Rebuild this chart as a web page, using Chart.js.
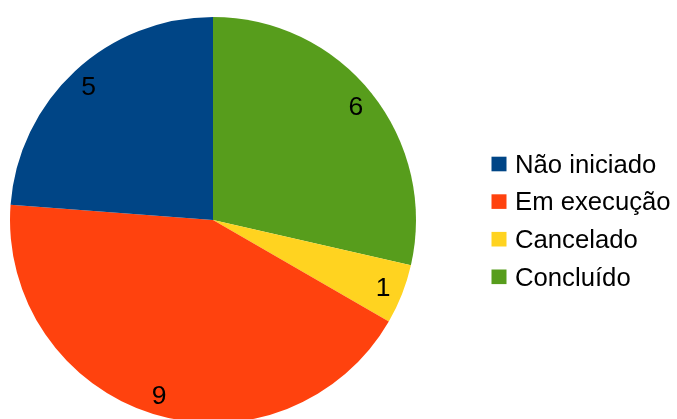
<!DOCTYPE html>
<html>
<head>
<meta charset="utf-8">
<script src="https://cdn.jsdelivr.net/npm/chart.js@4"></script>
<style>
  html, body { margin: 0; padding: 0; background: #fff; overflow: hidden; }
  #wrap { width: 677px; height: 419px; overflow: hidden; }
  canvas { display: block; }
</style>
</head>
<body>
<div id="wrap"><canvas id="pizza" width="677" height="423"></canvas></div>
<script>
// Dados do gráfico (ordem da legenda)
const categorias = ["Não iniciado", "Em execução", "Cancelado", "Concluído"];
const valores = [5, 9, 1, 6];
const cores = ["#004586", "#ff420e", "#ffd320", "#579d1c"];

// O LibreOffice desenha no sentido anti-horário: invertemos para o Chart.js
const rotulosPizza = categorias.slice().reverse();
const valoresPizza = valores.slice().reverse();
const coresPizza = cores.slice().reverse();

// Números dentro das fatias
const etiquetas = {
  id: "etiquetas",
  afterDatasetsDraw(chart) {
    const ctx = chart.ctx;
    const meta = chart.getDatasetMeta(0);
    const tam = 26.5;
    ctx.save();
    ctx.font = tam + 'px "Liberation Sans", Arial, sans-serif';
    ctx.fillStyle = "#000";
    ctx.textAlign = "center";
    ctx.textBaseline = "alphabetic";
    meta.data.forEach((arc, i) => {
      const p = arc.getProps(["x", "y", "startAngle", "endAngle", "outerRadius"], true);
      const meio = (p.startAngle + p.endAngle) / 2;
      const r = p.outerRadius * 0.9;
      const cx = p.x + Math.cos(meio) * r;
      const cy = p.y + Math.sin(meio) * r;
      ctx.fillText(String(valoresPizza[i]), cx, cy + tam * 0.688 / 2);
    });
    ctx.restore();
  },
};

// Legenda à direita
const legenda = {
  id: "legenda",
  afterDraw(chart) {
    const ctx = chart.ctx;
    const tam = 25.7;
    ctx.save();
    ctx.font = tam + 'px "Liberation Sans", Arial, sans-serif';
    ctx.textBaseline = "alphabetic";
    ctx.textAlign = "left";
    categorias.forEach((nome, i) => {
      const y = 164 + i * 37.6;
      ctx.fillStyle = cores[i];
      ctx.fillRect(491.5, y - 7.3, 15, 14.6);
      ctx.fillStyle = "#000";
      ctx.fillText(nome, 515, y + tam * 0.688 / 2);
    });
    ctx.restore();
  },
};

new Chart(document.getElementById("pizza"), {
  type: "pie",
  data: {
    labels: rotulosPizza,
    datasets: [
      {
        data: valoresPizza,
        backgroundColor: coresPizza,
        borderWidth: 0,
      },
    ],
  },
  options: {
    responsive: false,
    animation: false,
    layout: { padding: { left: 10, top: 17, right: 261, bottom: 0 } },
    plugins: {
      legend: { display: false },
      tooltip: { enabled: false },
    },
  },
  plugins: [etiquetas, legenda],
});
</script>
</body>
</html>
